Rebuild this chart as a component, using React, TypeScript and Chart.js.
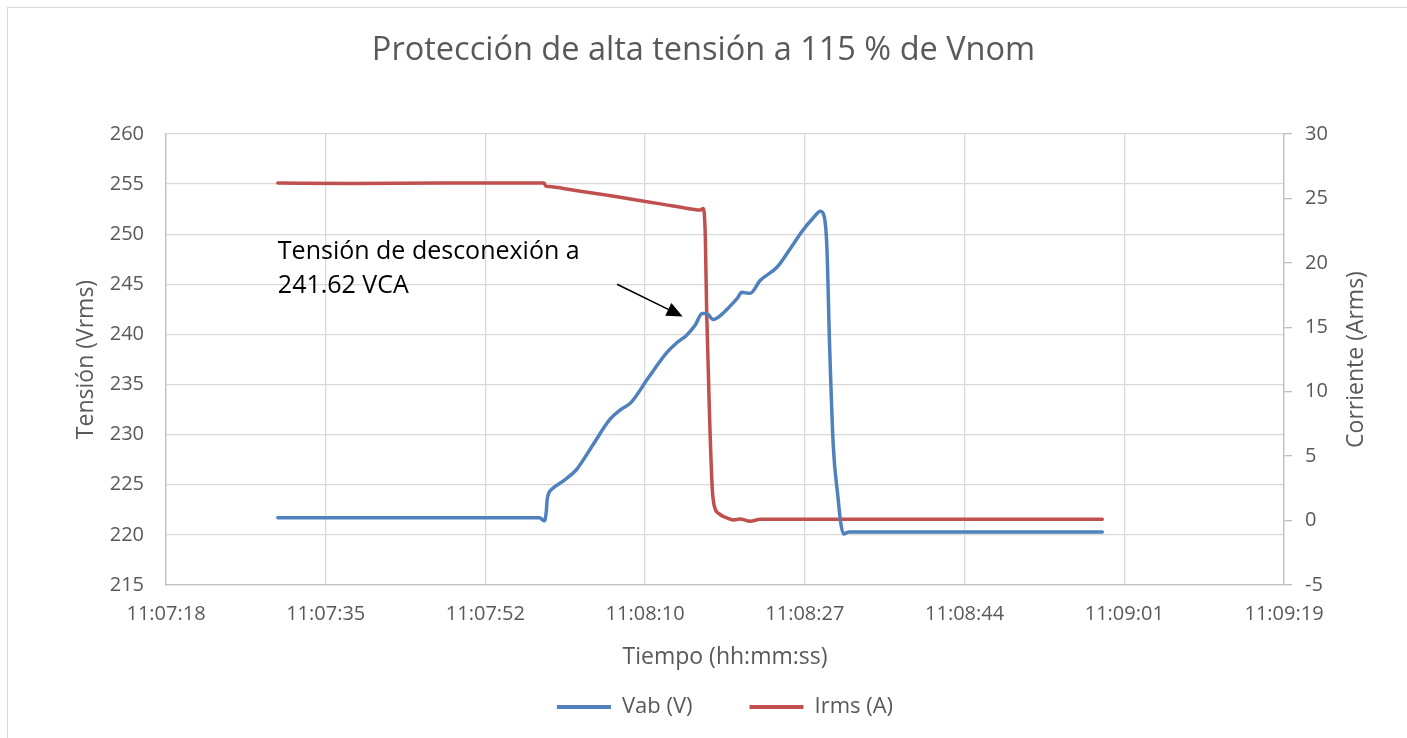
import React, { useEffect, useRef } from 'react';
import { Chart, registerables } from 'chart.js';

Chart.register(...registerables);

const chartTitle = 'Protección de alta tensión a 115 % de Vnom';
const xAxisTitle = 'Tiempo (hh:mm:ss)';
const yAxisTitle = 'Tensión (Vrms)';
const y1AxisTitle = 'Corriente (Arms)';

// Time axis: major unit of 17.28 s (0.0002 day), labels as shown
const X_STEP = 17.28;
const xTickLabels = ['11:07:18', '11:07:35', '11:07:52', '11:08:10', '11:08:27', '11:08:44', '11:09:01', '11:09:19'];

// Seconds after 11:07:18
const vabTime = [12.1, 25, 40.4, 40.95, 41.15, 41.25, 41.8, 43.0, 44.4, 46.2, 48.0, 49.2, 50.3, 52.2, 54.2, 55.3, 56.3, 57.3, 58.0, 58.5, 59.2, 60.0, 61.0, 61.8, 62.3, 63.2, 64.3, 66.1, 67.5, 68.9, 70.0, 70.8, 71.2, 71.5, 71.8, 72.2, 72.7, 73.0, 73.3, 73.9, 85, 101.3];
const vabValues = [221.7, 221.7, 221.7, 221.4, 222.4, 223.6, 224.6, 225.4, 226.5, 229.0, 231.5, 232.5, 233.2, 235.7, 238.2, 239.2, 239.9, 241.0, 242.1, 242.1, 241.5, 241.9, 242.8, 243.6, 244.2, 244.1, 245.4, 246.7, 248.5, 250.4, 251.6, 252.3, 251.8, 248.8, 238.8, 228.8, 223.8, 221.2, 220.1, 220.3, 220.3, 220.3];

const irmsTime = [12.1, 20, 30, 40.9, 41.1, 41.4, 44.0, 47.6, 50.4, 53.8, 57.0, 57.8, 58.15, 58.35, 58.5, 58.8, 59.1, 59.3, 59.9, 60.7, 61.4, 62.1, 63.2, 64.3, 75, 101.3];
const irmsValues = [26.2, 26.15, 26.2, 26.2, 25.95, 25.92, 25.65, 25.27, 24.94, 24.54, 24.16, 24.1, 24.22, 22.0, 16.1, 8.3, 2.5, 1.2, 0.5, 0.2, 0.05, 0.12, -0.05, 0.1, 0.1, 0.1];

// Annotation (data coordinates: seconds, volts)
const noteLines = ['Tensión de desconexión a', '241.62 VCA'];
const noteTime = 12.1;
const noteLineV = [248.2, 244.8];
const arrowFrom = { t: 48.8, v: 245.0 };
const arrowTo = { t: 55.9, v: 241.8 };

const FONT = '"Open Sans", "DejaVu Sans", sans-serif';
const GREY = '#595959';
const BLUE = '#4F81BD';
const RED = '#C0504D';

const extrasPlugin = {
  id: 'extras',
  beforeDraw(chart: any) {
    const ctx = chart.ctx;
    ctx.save();
    ctx.fillStyle = '#ffffff';
    ctx.fillRect(0, 0, chart.width, chart.height);
    ctx.strokeStyle = '#d9d9d9';
    ctx.lineWidth = 1;
    ctx.strokeRect(7.5, 7.5, chart.width + 50, chart.height + 50);
    ctx.restore();
  },
  afterDraw(chart: any) {
    const { ctx, scales, chartArea } = chart;
    const xs = scales.x;
    const ys = scales.y;
    const y1 = scales.y1;
    // right axis title, rotated like the left one
    ctx.save();
    ctx.fillStyle = GREY;
    ctx.font = `23px ${FONT}`;
    ctx.textAlign = 'center';
    ctx.textBaseline = 'middle';
    ctx.translate(y1.right - 51, (chartArea.top + chartArea.bottom) / 2);
    ctx.rotate(-Math.PI / 2);
    ctx.fillText(y1AxisTitle, 0, 0);
    ctx.restore();

    // annotation text
    ctx.save();
    ctx.fillStyle = '#000000';
    ctx.font = `25px ${FONT}`;
    ctx.textAlign = 'left';
    ctx.textBaseline = 'middle';
    noteLines.forEach((line, i) => {
      ctx.fillText(line, xs.getPixelForValue(noteTime), ys.getPixelForValue(noteLineV[i]));
    });
    // arrow
    const x0 = xs.getPixelForValue(arrowFrom.t);
    const y0 = ys.getPixelForValue(arrowFrom.v);
    const x1 = xs.getPixelForValue(arrowTo.t);
    const yy1 = ys.getPixelForValue(arrowTo.v);
    const ang = Math.atan2(yy1 - y0, x1 - x0);
    const headLen = 16;
    const headW = 7;
    const bx = x1 - headLen * Math.cos(ang);
    const by = yy1 - headLen * Math.sin(ang);
    ctx.strokeStyle = '#000000';
    ctx.lineWidth = 1.6;
    ctx.beginPath();
    ctx.moveTo(x0, y0);
    ctx.lineTo(bx, by);
    ctx.stroke();
    ctx.beginPath();
    ctx.moveTo(x1, yy1);
    ctx.lineTo(bx + headW * Math.sin(ang), by - headW * Math.cos(ang));
    ctx.lineTo(bx - headW * Math.sin(ang), by + headW * Math.cos(ang));
    ctx.closePath();
    ctx.fillStyle = '#000000';
    ctx.fill();
    ctx.restore();
  },
};

export default function App() {
  const canvasRef = useRef<HTMLCanvasElement | null>(null);

  useEffect(() => {
    const canvas = canvasRef.current;
    if (!canvas) return;
    const vabData = vabTime.map((t, i) => ({ x: t, y: vabValues[i] }));
    const irmsData = irmsTime.map((t, i) => ({ x: t, y: irmsValues[i] }));

    const chart = new Chart(canvas, {
      type: 'line',
      data: {
        datasets: [
          {
            label: 'Vab (V)',
            data: vabData,
            yAxisID: 'y',
            borderColor: BLUE,
            backgroundColor: BLUE,
            borderWidth: 3.5,
            pointRadius: 0,
            cubicInterpolationMode: 'monotone',
            borderCapStyle: 'round',
            borderJoinStyle: 'round',
          },
          {
            label: 'Irms (A)',
            data: irmsData,
            yAxisID: 'y1',
            borderColor: RED,
            backgroundColor: RED,
            borderWidth: 3.5,
            pointRadius: 0,
            cubicInterpolationMode: 'monotone',
            borderCapStyle: 'round',
            borderJoinStyle: 'round',
          },
        ],
      },
      options: {
        responsive: false,
        animation: false,
        devicePixelRatio: 1,
        layout: { padding: { left: 0, right: 0, top: 0, bottom: 10 } },
        plugins: {
          tooltip: { enabled: false },
          title: {
            display: true,
            text: chartTitle,
            color: GREY,
            font: { family: FONT, size: 32.5, weight: 'normal' },
            padding: { top: 31, bottom: 64 },
          },
          legend: {
            display: true,
            position: 'bottom',
            fullSize: false,
            labels: {
              color: GREY,
              font: { family: FONT, size: 22 },
              boxWidth: 54,
              boxHeight: 4,
              padding: 57,
              generateLabels: (c: any) =>
                (Chart.defaults.plugins.legend.labels.generateLabels as any)(c).map((l: any) => ({
                  ...l,
                  lineWidth: 0,
                  fillStyle: l.strokeStyle,
                })),
            },
          },
        },
        scales: {
          x: {
            type: 'linear',
            position: 'bottom',
            min: 0,
            max: X_STEP * (xTickLabels.length - 1),
            afterBuildTicks: (scale: any) => {
              scale.ticks = xTickLabels.map((_, i) => ({ value: i * X_STEP }));
            },
            afterFit: (scale: any) => {
              scale.height = 54;
            },
            ticks: {
              autoSkip: false,
              maxRotation: 0,
              minRotation: 0,
              color: GREY,
              padding: 17,
              font: { family: FONT, size: 20 },
              callback: (_v: any, index: number) => xTickLabels[index],
            },
            grid: { color: '#d9d9d9', lineWidth: 1.3, drawTicks: false },
            border: { display: true, color: '#bfbfbf', width: 1.3 },
            title: {
              display: true,
              text: xAxisTitle,
              color: GREY,
              font: { family: FONT, size: 23 },
              padding: { top: 0, bottom: -31.8 },
            },
          },
          y: {
            type: 'linear',
            position: 'left',
            min: 215,
            max: 260,
            afterFit: (scale: any) => {
              scale.width = 166;
            },
            ticks: {
              stepSize: 5,
              color: GREY,
              padding: 22,
              font: { family: FONT, size: 20 },
            },
            grid: { color: '#d9d9d9', lineWidth: 1.3, drawTicks: false },
            border: { display: true, color: '#bfbfbf', width: 1.3 },
            title: {
              display: true,
              text: yAxisTitle,
              color: GREY,
              font: { family: FONT, size: 23 },
              padding: { top: 73, bottom: 0 },
            },
          },
          y1: {
            type: 'linear',
            position: 'right',
            min: -5,
            max: 30,
            afterFit: (scale: any) => {
              scale.width = 123;
            },
            ticks: {
              stepSize: 5,
              color: GREY,
              padding: 13,
              font: { family: FONT, size: 20 },
            },
            grid: {
              drawOnChartArea: false,
              drawTicks: true,
              tickLength: 8,
              color: '#bfbfbf',
              lineWidth: 1.3,
            },
            border: { display: true, color: '#bfbfbf', width: 1.3 },
          },
        },
      } as any,
      plugins: [extrasPlugin],
    });

    return () => {
      chart.destroy();
    };
  }, []);

  return (
    <div
      style={{
        position: 'absolute',
        left: 0,
        top: 0,
        width: 1407,
        height: 738,
        overflow: 'hidden',
        background: '#ffffff',
      }}
    >
      <canvas ref={canvasRef} width={1407} height={738} style={{ display: 'block' }} />
    </div>
  );
}
